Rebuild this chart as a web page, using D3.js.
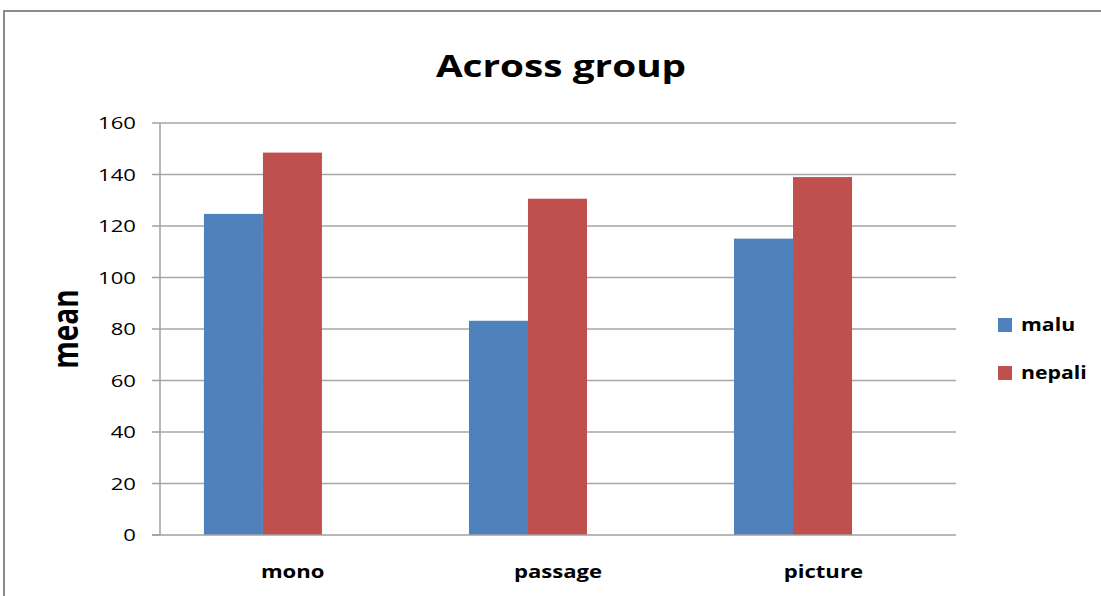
<!DOCTYPE html>
<html>
<head>
<meta charset="utf-8">
<script src="https://cdn.jsdelivr.net/npm/d3@7"></script>
<style>
  html, body { margin: 0; padding: 0; background: #fff; }
  svg { display: block; }
  text { font-family: "Open Sans", "Noto Sans", sans-serif; fill: #000; }
</style>
</head>
<body>
<svg id="chart" width="1101" height="596"></svg>
<script>
// Chart data
const categories = ["mono", "passage", "picture"];
const seriesNames = ["malu", "nepali"];
const maluValues = [124.7, 83.2, 115.1];
const nepaliValues = [148.5, 130.6, 139.0];
const yTicks = [0, 20, 40, 60, 80, 100, 120, 140, 160];
const seriesColors = ["#4F81BD", "#C0504D"];

const seriesValues = [maluValues, nepaliValues];
const rows = categories.map((c, i) => ({
  category: c,
  values: seriesNames.map((s, j) => ({ series: s, value: seriesValues[j][i] }))
}));

const svg = d3.select("#chart");
const stretch = 1.3; // wide-set lettering

// Outer frame (top and left edges)
svg.append("path")
  .attr("d", "M4,596 L4,11 L1101,11")
  .attr("fill", "none")
  .attr("stroke", "#8c8c8c")
  .attr("stroke-width", 2);

// Scales
const plotLeft = 160, plotRight = 956, plotTop = 123, plotBottom = 535;
const y = d3.scaleLinear().domain([0, 160]).range([plotBottom, plotTop]);
const xAxisScale = d3.scaleBand().domain(categories).range([plotLeft, plotRight]);
const xGroups = d3.scaleBand().domain(categories).range([plotLeft, plotRight])
  .paddingInner(0.5547).paddingOuter(0.279).align(0.297);
const xSeries = d3.scaleBand().domain(seriesNames).range([0, xGroups.bandwidth()]);

// Horizontal gridlines
svg.append("g")
  .selectAll("line")
  .data(yTicks.filter(t => t > 0))
  .join("line")
  .attr("x1", plotLeft).attr("x2", plotRight)
  .attr("y1", d => y(d)).attr("y2", d => y(d))
  .attr("stroke", "#a6a6a6")
  .attr("stroke-width", 1.5);

// Bars
const groups = svg.append("g")
  .selectAll("g")
  .data(rows)
  .join("g")
  .attr("transform", d => `translate(${xGroups(d.category)},0)`);

groups.selectAll("rect")
  .data(d => d.values)
  .join("rect")
  .attr("x", d => xSeries(d.series))
  .attr("width", xSeries.bandwidth())
  .attr("y", d => y(d.value))
  .attr("height", d => y(0) - y(d.value))
  .attr("fill", (d, i) => seriesColors[i]);

// Y axis line and tick marks
const yAxisG = svg.append("g");
yAxisG.append("line")
  .attr("x1", plotLeft).attr("x2", plotLeft)
  .attr("y1", y(160)).attr("y2", y(0))
  .attr("stroke", "#a0a0a0").attr("stroke-width", 1.5);
yAxisG.selectAll("line.tick")
  .data(yTicks)
  .join("line")
  .attr("class", "tick")
  .attr("x1", plotLeft - 8).attr("x2", plotLeft)
  .attr("y1", d => y(d)).attr("y2", d => y(d))
  .attr("stroke", "#a0a0a0").attr("stroke-width", 1.5);
yAxisG.selectAll("text")
  .data(yTicks)
  .join("text")
  .attr("transform", d => `translate(136,${y(d)}) scale(${stretch},1)`)
  .attr("dy", "0.36em")
  .attr("text-anchor", "end")
  .style("font-size", "17px")
  .text(d => d);

// X axis line
svg.append("line")
  .attr("x1", plotLeft - 8).attr("x2", plotRight)
  .attr("y1", y(0)).attr("y2", y(0))
  .attr("stroke", "#a0a0a0").attr("stroke-width", 1.5);

// Category labels
svg.append("g")
  .selectAll("text")
  .data(categories)
  .join("text")
  .attr("transform", d => `translate(${xAxisScale(d) + xAxisScale.bandwidth() / 2},572) scale(${stretch},1)`)
  .attr("dy", "0.36em")
  .attr("text-anchor", "middle")
  .style("font-size", "17px")
  .style("font-weight", "bold")
  .text(d => d);

// Title
svg.append("text")
  .attr("transform", `translate(561,77) scale(1.25,1)`)
  .attr("text-anchor", "middle")
  .style("font-size", "31px")
  .style("font-weight", "bold")
  .text("Across group");

// Y axis title (rotated; widened across the glyphs like the other lettering)
svg.append("text")
  .attr("transform", `translate(78,329) rotate(-90) scale(1,1.3)`)
  .attr("text-anchor", "middle")
  .style("font-size", "28px")
  .style("font-weight", "bold")
  .text("mean");

// Legend
const legend = svg.append("g")
  .selectAll("g")
  .data(seriesNames)
  .join("g")
  .attr("transform", (d, i) => `translate(998,${325 + i * 48})`);
legend.append("rect")
  .attr("x", 0).attr("y", -7)
  .attr("width", 14).attr("height", 14)
  .attr("fill", (d, i) => seriesColors[i]);
legend.append("text")
  .attr("transform", `translate(23,0) scale(1.25,1)`)
  .attr("dy", "0.36em")
  .style("font-size", "17px")
  .style("font-weight", "bold")
  .text(d => d);
</script>
</body>
</html>
